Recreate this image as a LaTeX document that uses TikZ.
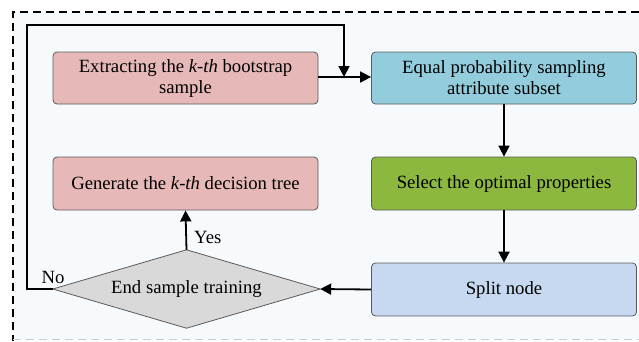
\documentclass[tikz,border=0pt]{standalone}
\usepackage{fontspec}
\setmainfont{Liberation Serif}
\usetikzlibrary{arrows.meta}
\definecolor{bgc}{HTML}{F7FAFD}
\definecolor{pinkc}{HTML}{E6B9B8}
\definecolor{bluec}{HTML}{93CDDD}
\definecolor{greenc}{HTML}{8DB840}
\definecolor{splitc}{HTML}{C6D9F0}
\definecolor{grayc}{HTML}{D9D9D9}
\definecolor{edgec}{HTML}{5A5A5A}
\tikzset{
  txt/.style={font=\fontsize{18.7}{21}\selectfont},
  box/.style={txt, draw=edgec, line width=0.8pt, rounded corners=4pt, minimum width=265pt, minimum height=52pt, align=center, inner sep=2pt},
  diabox/.style={rectangle, minimum width=267pt, minimum height=78pt, inner sep=0pt},
  diashape/.style={draw=edgec, line width=0.8pt, fill=grayc},
  conn/.style={line width=1.8pt, -{Triangle[length=11pt,width=11pt]}},
  lbl/.style={txt, inner sep=0pt}
}
\begin{document}
\begin{tikzpicture}[x=1pt,y=-1pt]
\useasboundingbox (0,0) rectangle (639,341);
\fill[white] (0,0) rectangle (639,341);
\fill[bgc] (13,12) rectangle (639,339);
\draw[line width=1.5pt, dash pattern=on 8pt off 5pt] (639,12) -- (13,12) -- (13,341);
\draw[line width=0.8pt, gray!40, dash pattern=on 8pt off 5pt] (13,339.5) -- (639,339.5);
\node[box, fill=pinkc] (b1) at (185.5,78) {Extracting the \textit{k-th} bootstrap\\sample};
\node[box, fill=bluec] (b2) at (504,78) {Equal probability sampling\\attribute subset};
\node[box, fill=greenc, minimum height=53pt] (b3) at (504,183.5) {Select the optimal properties};
\node[box, fill=splitc, minimum height=53pt] (b4) at (504,289.5) {Split node};
\node[box, fill=pinkc, minimum height=53pt] (b5) at (185.5,183.5) {Generate the \textit{k-th} decision tree};
\node[diabox] (d) at (186.5,289) {};
\filldraw[diashape] (d.west) -- (d.north) -- (d.east) -- (d.south) -- cycle;
\node[lbl] (dt) at (d.center) {End sample training};
\coordinate (j) at (344,77);
\coordinate (c1) at (27,25);
\draw[conn] (b1.east |- j) -- (b2.west |- j);
\draw[conn] (b2) -- (b3);
\draw[conn] (b3) -- (b4);
\draw[conn] (b4.west) -- (d.east);
\draw[conn] (d.north) -- (b5.south);
\draw[conn] (d.west) -| (c1) -| (j);
\node[lbl, anchor=west] (yes) at (194,237) {Yes};
\node[lbl] (no) at (53,277) {No};
\end{tikzpicture}
\end{document}
